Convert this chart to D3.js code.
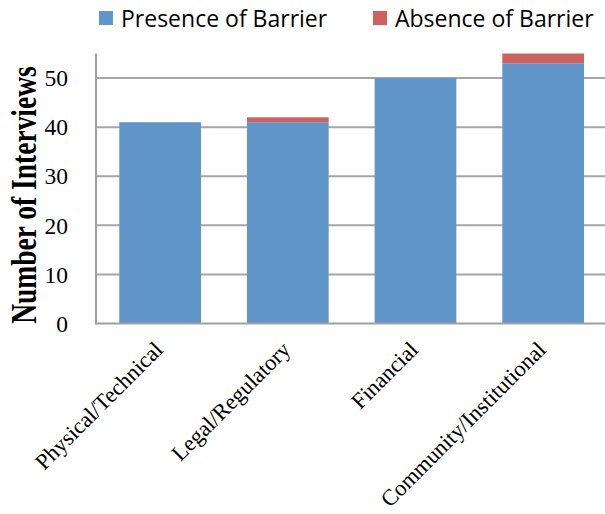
<!DOCTYPE html>
<html>
<head>
<meta charset="utf-8">
<script src="https://cdn.jsdelivr.net/npm/d3@7"></script>
<style>
  html, body { margin: 0; padding: 0; background: #fff; }
  svg { display: block; }
</style>
</head>
<body>
<div id="chart"></div>
<script>
// ---- data ----
const categories = ["Physical/Technical", "Legal/Regulatory", "Financial", "Community/Institutional"];
const seriesNames = ["Presence of Barrier", "Absence of Barrier"];
const presence = [41, 41, 50, 53];
const absence = [0, 1, 0, 2];
const yTicks = [0, 10, 20, 30, 40, 50];
const yMax = 55;

const colors = { "Presence of Barrier": "#6096CA", "Absence of Barrier": "#CC625E" };

const W = 605, H = 514;
const svg = d3.select("#chart").append("svg").attr("width", W).attr("height", H);

const x = d3.scaleBand().domain(categories).range([96.3, 607]).paddingInner(0.36).paddingOuter(0.18);
const y = d3.scaleLinear().domain([0, yMax]).range([323.5, 53.5]);

const table = categories.map((c, i) => ({ cat: c, "Presence of Barrier": presence[i], "Absence of Barrier": absence[i] }));
const stacked = d3.stack().keys(seriesNames)(table);

// gridlines
svg.append("g").selectAll("line").data(yTicks.filter(t => t > 0)).join("line")
  .attr("x1", 96).attr("x2", 607)
  .attr("y1", d => y(d)).attr("y2", d => y(d))
  .attr("stroke", "#a6a6a6").attr("stroke-width", 2);

// bars
svg.append("g").selectAll("g").data(stacked).join("g")
  .attr("fill", d => colors[d.key])
  .selectAll("rect").data(d => d).join("rect")
  .attr("x", d => x(d.data.cat))
  .attr("width", x.bandwidth())
  .attr("y", d => y(d[1]))
  .attr("height", d => y(d[0]) - y(d[1]));

// axes lines
svg.append("line").attr("x1", 96).attr("x2", 96).attr("y1", y(yMax)).attr("y2", y(0) + 1)
  .attr("stroke", "#a0a0a0").attr("stroke-width", 2);
svg.append("line").attr("x1", 95).attr("x2", 607).attr("y1", y(0)).attr("y2", y(0))
  .attr("stroke", "#a0a0a0").attr("stroke-width", 2);

// y tick labels
svg.append("g").selectAll("text").data(yTicks).join("text")
  .attr("x", 68).attr("y", d => y(d)).attr("dy", "0.35em")
  .attr("text-anchor", "end")
  .attr("font-family", "'Liberation Serif', serif").attr("font-size", 23.5)
  .attr("fill", "#000")
  .text(d => d);

// y title
svg.append("text")
  .attr("transform", `translate(36, ${(62 + 328) / 2}) scale(1.3, 1) rotate(-90)`)
  .attr("text-anchor", "middle")
  .attr("font-family", "'Liberation Serif', serif").attr("font-weight", "bold").attr("font-size", 27.5)
  .attr("fill", "#000")
  .text("Number of Interviews");

// x labels
svg.append("g").selectAll("text").data(categories).join("text")
  .attr("transform", d => `translate(${x(d) + x.bandwidth() / 2 + 4}, 351) rotate(-45)`)
  .attr("text-anchor", "end")
  .attr("font-family", "'Liberation Serif', serif").attr("font-size", 22.5)
  .attr("fill", "#000")
  .text(d => d);

// legend
const legendX = [99, 373];
const lg = svg.append("g").selectAll("g").data(seriesNames).join("g")
  .attr("transform", (d, i) => `translate(${legendX[i]}, 0)`);
lg.append("rect").attr("x", 0).attr("y", 11).attr("width", 14).attr("height", 14)
  .attr("fill", d => colors[d]);
lg.append("text").attr("x", 22).attr("y", 27)
  .attr("font-family", "'Open Sans', sans-serif").attr("font-size", 23)
  .attr("fill", "#000")
  .text(d => d);
</script>
</body>
</html>
